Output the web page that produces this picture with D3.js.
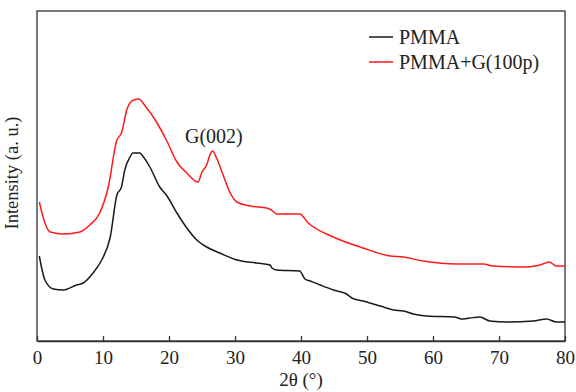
<!DOCTYPE html>
<html>
<head>
<meta charset="utf-8">
<script src="https://cdn.jsdelivr.net/npm/d3@7"></script>
<style>
  body { margin: 0; background: #fff; }
  text { font-family: "Liberation Serif", "Times New Roman", serif; fill: #222; }
</style>
</head>
<body>
<div id="chart"></div>
<script>
// data (2theta in degrees, intensity in arbitrary units)
var pmmaTheta = [0.35, 1.2, 2.5, 4, 6, 7, 8.5, 9.8, 11.1, 12.1, 12.8, 13.3, 14.1, 14.5, 15.6, 15.9, 17.1, 18.6, 19.6, 21.2, 22.7, 24.2, 25.7, 27.7, 30.3, 33.3, 35.3, 35.6, 36.3, 39.8, 40.6, 41.4, 42.9, 44.9, 46.9, 47.7, 49.4, 52, 54, 55.5, 57, 59, 63.3, 64.3, 65.6, 67.1, 68.6, 71.2, 75.2, 77.2, 78.7, 80];
var pmmaInt = [85, 61, 52, 51, 56, 58, 68, 81, 104, 146, 154, 171, 184, 188, 188, 186, 174, 154, 146, 128, 113, 101, 94, 88, 81, 78, 76, 73, 71, 70, 62, 60, 56, 51, 47, 43, 40, 35, 31, 30, 27, 25, 24, 22, 23, 24, 20, 19, 20, 22, 19, 19];

var gTheta = [0.35, 1.2, 2, 4, 6.5, 8, 9.5, 10.8, 12.1, 12.8, 13.6, 14.6, 15.4, 16.4, 18.1, 19.6, 21.2, 22.7, 24.4, 25, 25.7, 26.2, 26.6, 27.2, 28.2, 29.2, 30.3, 32.3, 34.8, 35.5, 36.3, 38.8, 39.8, 41.1, 44.9, 49.4, 53.5, 55.5, 58.5, 63.6, 67.6, 69.1, 74.2, 76.2, 77.6, 78.7, 80];
var gInt = [139, 118, 109, 107, 109, 116, 128, 154, 201, 208, 231, 241, 242, 235, 219, 201, 179, 168, 159, 169, 176, 186, 190, 183, 166, 149, 139, 135, 133, 131, 127, 127, 127, 118, 104, 93, 85, 84, 80, 77, 77, 75, 74, 76, 79, 75, 75];

var xTicks = [0, 10, 20, 30, 40, 50, 60, 70, 80];
var seriesNames = ["PMMA", "PMMA+G(100p)"];
var seriesColors = ["#1a1a1a", "#ff1a1a"];

var margin = {top: 11, right: 11, bottom: 51, left: 37},
    width = 576 - margin.left - margin.right,
    height = 392 - margin.top - margin.bottom;

var svg = d3.select("#chart")
  .append("svg")
    .attr("width", 576)
    .attr("height", 392)
  .append("g")
    .attr("transform", "translate(" + margin.left + "," + margin.top + ")");

var x = d3.scaleLinear().domain([0, 80]).range([0, width]);
var y = d3.scaleLinear().domain([0, 330]).range([height, 0]);

// frame
svg.append("rect")
  .attr("width", width)
  .attr("height", height)
  .attr("fill", "none")
  .attr("stroke", "#333")
  .attr("stroke-width", 1.3);

// x axis with inward ticks
var xAxis = svg.append("g")
  .attr("transform", "translate(0," + height + ")")
  .call(d3.axisBottom(x).tickValues(xTicks).tickSizeInner(-5).tickSizeOuter(0).tickPadding(10));
xAxis.select(".domain").attr("stroke", "#333").attr("stroke-width", 1.3);
xAxis.selectAll(".tick line").attr("stroke", "#333").attr("stroke-width", 1.3);
xAxis.selectAll("text")
  .style("font-family", "'Liberation Serif', serif")
  .style("font-size", "19px")
  .style("fill", "#222");

svg.append("text")
  .attr("x", width / 2)
  .attr("y", height + 45)
  .attr("text-anchor", "middle")
  .style("font-size", "19px")
  .text("2θ (°)");

svg.append("text")
  .attr("transform", "translate(-19," + (height / 2 - 3) + ") rotate(-90)")
  .attr("text-anchor", "middle")
  .style("font-size", "18.5px")
  .text("Intensity (a. u.)");

var line = d3.line()
  .x(function(d) { return x(d[0]); })
  .y(function(d) { return y(d[1]); })
  .curve(d3.curveMonotoneX);

var series = [d3.zip(pmmaTheta, pmmaInt), d3.zip(gTheta, gInt)];

svg.selectAll("path.curve")
  .data(series)
  .enter()
  .append("path")
    .attr("class", "curve")
    .attr("d", line)
    .attr("fill", "none")
    .attr("stroke", function(d, i) { return seriesColors[i]; })
    .attr("stroke-width", 1.5);

// peak label
svg.append("text")
  .attr("x", x(26.8))
  .attr("y", y(198))
  .attr("text-anchor", "middle")
  .style("font-size", "20px")
  .text("G(002)");

// legend
var legend = svg.selectAll("g.legend")
  .data(seriesNames)
  .enter()
  .append("g")
    .attr("class", "legend")
    .attr("transform", function(d, i) { return "translate(332," + (26 + i * 25) + ")"; });

legend.append("line")
  .attr("x1", 0)
  .attr("x2", 24)
  .attr("stroke", function(d, i) { return seriesColors[i]; })
  .attr("stroke-width", 1.5);

legend.append("text")
  .attr("x", 30)
  .attr("dy", "0.35em")
  .style("font-size", "20px")
  .text(function(d) { return d; });
</script>
</body>
</html>
